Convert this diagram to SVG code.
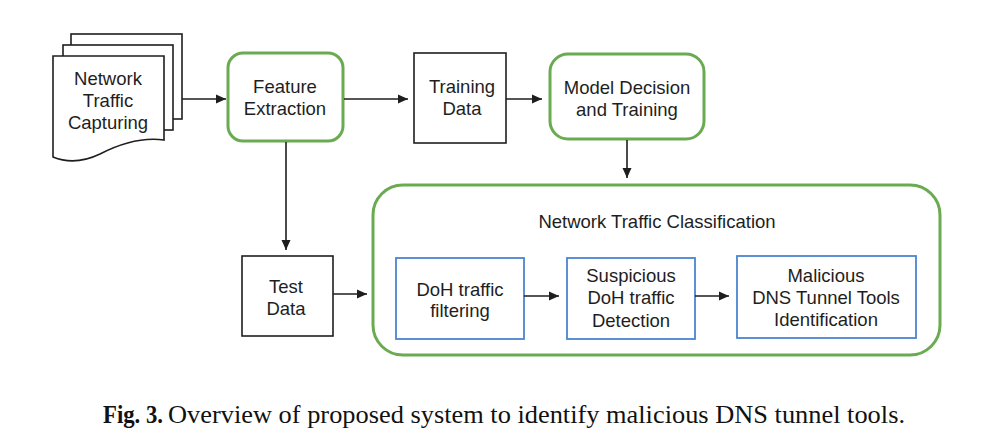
<svg xmlns="http://www.w3.org/2000/svg" width="981" height="447" viewBox="0 0 981 447">
<defs>
<style>
.lbl{font-family:"Liberation Sans",Arial,sans-serif;font-size:18.5px;fill:#1e1e1e;text-anchor:middle}
.blk{fill:#fff;stroke:#1e1e1e;stroke-width:1.6}
.grn{fill:#fff;stroke:#6aab52;stroke-width:3}
.blu{fill:#fff;stroke:#4a85d0;stroke-width:1.8}
.con{stroke:#1e1e1e;stroke-width:1.6;fill:none;marker-end:url(#ah)}
.cap{font-family:"Liberation Serif","Times New Roman",serif;font-size:25.5px;fill:#111}
</style>
<marker id="ah" markerUnits="userSpaceOnUse" markerWidth="10" markerHeight="10" refX="10" refY="5" orient="auto">
<path d="M0,0.5 L10,5 L0,9.5 Z" fill="#1e1e1e"/>
</marker>
</defs>
<rect width="981" height="447" fill="#fff"/>

<g id="capture">
<rect class="blk" x="71" y="34" width="111" height="85"/>
<rect class="blk" x="63" y="45" width="110" height="85"/>
<path class="blk" d="M53,56 H164 V140 Q135,136 100,154 Q75,166 53,157 Z"/>
<text class="lbl" x="108" y="85">Network</text>
<text class="lbl" x="108" y="107">Traffic</text>
<text class="lbl" x="108" y="129">Capturing</text>
</g>

<g id="feature">
<rect class="grn" x="228" y="53" width="115" height="88" rx="15"/>
<text class="lbl" x="285" y="93">Feature</text>
<text class="lbl" x="285" y="115">Extraction</text>
</g>

<g id="training">
<rect class="blk" x="414" y="53" width="92" height="90"/>
<text class="lbl" x="462" y="93">Training</text>
<text class="lbl" x="462" y="115">Data</text>
</g>

<g id="model">
<rect class="grn" x="550" y="54" width="154" height="85" rx="18"/>
<text class="lbl" x="627" y="94">Model Decision</text>
<text class="lbl" x="627" y="116">and Training</text>
</g>

<g id="test">
<rect class="blk" x="242" y="256" width="91" height="80"/>
<text class="lbl" x="286" y="293">Test</text>
<text class="lbl" x="286" y="315">Data</text>
</g>

<g id="classification">
<rect class="grn" x="373" y="185" width="567" height="170" rx="30"/>
<text class="lbl" x="657" y="228">Network Traffic Classification</text>
</g>

<g id="doh">
<rect class="blu" x="396" y="258" width="128" height="81"/>
<text class="lbl" x="460" y="296">DoH traffic</text>
<text class="lbl" x="460" y="317">filtering</text>
</g>

<g id="suspicious">
<rect class="blu" x="567" y="258" width="128" height="81"/>
<text class="lbl" x="631" y="282">Suspicious</text>
<text class="lbl" x="631" y="304">DoH traffic</text>
<text class="lbl" x="631" y="327">Detection</text>
</g>

<g id="malicious">
<rect class="blu" x="737" y="256" width="179" height="82"/>
<text class="lbl" x="826" y="282">Malicious</text>
<text class="lbl" x="826" y="304">DNS Tunnel Tools</text>
<text class="lbl" x="826" y="326">Identification</text>
</g>

<g id="connectors">
<line class="con" x1="182" y1="99" x2="226" y2="99"/>
<line class="con" x1="344" y1="99" x2="408" y2="99"/>
<line class="con" x1="506" y1="99" x2="542" y2="99"/>
<line class="con" x1="627" y1="140" x2="627" y2="178"/>
<line class="con" x1="286" y1="142" x2="286" y2="250"/>
<line class="con" x1="333" y1="294" x2="367" y2="294"/>
<line class="con" x1="524" y1="296" x2="559" y2="296"/>
<line class="con" x1="695" y1="296" x2="729" y2="296"/>
</g>

<g id="caption">
<text class="cap" x="103" y="423" font-weight="bold" textLength="60" lengthAdjust="spacingAndGlyphs">Fig. 3.</text>
<text class="cap" x="168" y="423" textLength="737" lengthAdjust="spacingAndGlyphs">Overview of proposed system to identify malicious DNS tunnel tools.</text>
</g>
</svg>
